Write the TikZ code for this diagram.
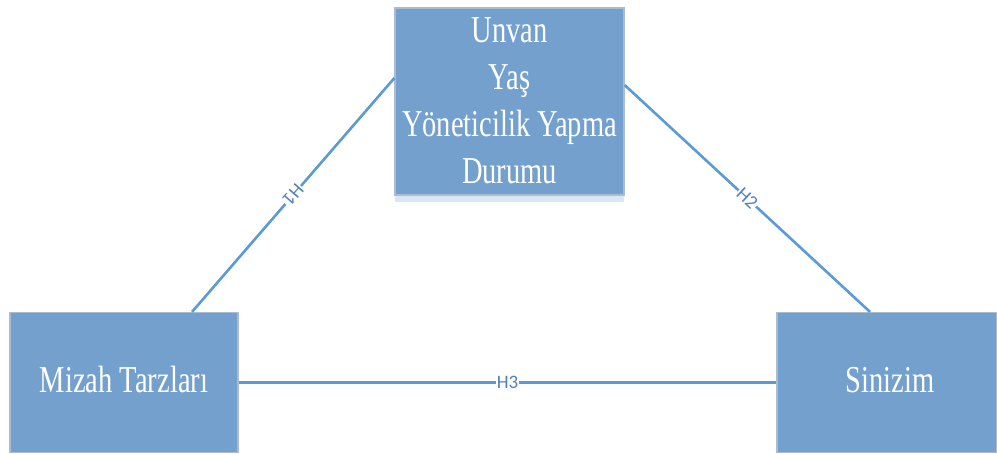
\documentclass[tikz,border=0pt]{standalone}
\usepackage{fontspec}
\setmainfont{Liberation Serif}
\newfontfamily\labelfont{Carlito}
\definecolor{boxfill}{RGB}{115,160,205}
\definecolor{boxedge}{RGB}{170,188,210}
\definecolor{linkcol}{RGB}{91,155,213}
\definecolor{labcol}{RGB}{79,129,189}
\definecolor{stripcol}{RGB}{220,230,242}
\begin{document}
\begin{tikzpicture}[x=1pt,y=1pt,
  boxstyle/.style={draw=boxedge,line width=1.2pt,fill=boxfill,inner sep=0pt},
  boxtext/.style={text=white,align=center,xscale=0.75,transform shape,inner sep=0pt,
    font=\fontsize{38}{47}\selectfont},
  link/.style={draw=linkcol,line width=2.6pt},
  linklabel/.style={fill=white,text=labcol,inner sep=1pt,font=\labelfont\fontsize{19}{21}\selectfont}]
\useasboundingbox (0,0) rectangle (997,453);
% light strip under top box
\fill[stripcol] (395,251) rectangle (624,258);
% boxes
\node[boxstyle,minimum width=229,minimum height=187] (tbox) at (509.5,351.5) {};
\node[boxstyle,minimum width=228,minimum height=140] (lbox) at (124,70.5) {};
\node[boxstyle,minimum width=220,minimum height=140] (rbox) at (887,70.5) {};
% texts
\node[boxtext] (ttext) at (509.5,352) {Unvan\\Yaş\\Yöneticilik Yapma\\Durumu};
\node[boxtext] (ltext) at (124,73) {Mizah Tarzları};
\node[boxtext] (rtext) at (890,73) {Sinizim};
% connector end points on box borders
\coordinate (h1a) at (lbox.north -| 192,0);
\coordinate (h1b) at (tbox.west |- 0,375);
\coordinate (h2a) at (tbox.east |- 0,368);
\coordinate (h2b) at (rbox.north -| 870,0);
% connectors
\draw[link] (h1a) -- node[linklabel,rotate=229] (l1) {H1} (h1b);
\draw[link] (h2a) -- node[linklabel,rotate=-43] (l2) {H2} (h2b);
\draw[link] (lbox.east) -- node[linklabel] (l3) {H3} (rbox.west);
\end{tikzpicture}
\end{document}
